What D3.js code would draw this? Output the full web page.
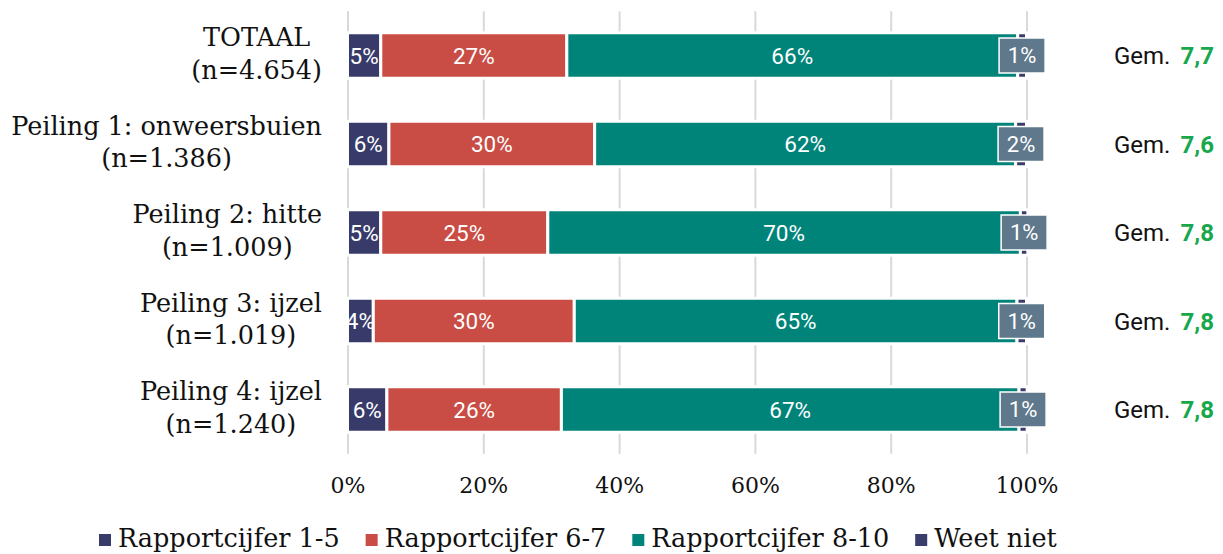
<!DOCTYPE html>
<html>
<head>
<meta charset="utf-8">
<script src="https://cdn.jsdelivr.net/npm/d3@7"></script>
<style>
  html, body { margin: 0; padding: 0; background: #fff; }
  svg { display: block; }
</style>
</head>
<body>
<svg id="chart" width="1223" height="554"></svg>
<script>
// ---- data ----
const categoryNames = ["TOTAAL", "Peiling 1: onweersbuien", "Peiling 2: hitte", "Peiling 3: ijzel", "Peiling 4: ijzel"];
const categorySizes = ["(n=4.654)", "(n=1.386)", "(n=1.009)", "(n=1.019)", "(n=1.240)"];
const seriesNames = ["Rapportcijfer 1-5", "Rapportcijfer 6-7", "Rapportcijfer 8-10", "Weet niet"];
const cijfer1to5 = [4.9, 6.1, 4.9, 3.8, 5.8];
const cijfer6to7 = [27.4, 30.3, 24.6, 29.6, 25.7];
const cijfer8to10 = [66.4, 62.0, 69.6, 65.2, 67.4];
const weetNiet = [1.3, 1.6, 1.1, 1.4, 1.2];
const gemiddelde = ["7,7", "7,6", "7,8", "7,8", "7,8"];
const tickValues = [0, 20, 40, 60, 80, 100];

const colors = ["#383b69", "#c94d44", "#00847a", "#3a3c6c"];
const weetBoxColor = "#5f788b";

const svg = d3.select("#chart");
const x = d3.scaleLinear().domain([0, 100]).range([347.5, 1026.5]);
const y = d3.scaleBand().domain(d3.range(categoryNames.length))
  .range([11.25, 453.75]).paddingInner(0.486).paddingOuter(0.243);

// grid / axis
const axis = d3.axisBottom(x).tickValues(tickValues).tickFormat(d => d + "%")
  .tickSizeInner(-(453.75 - 11.25)).tickSizeOuter(0).tickPadding(24);
const gAxis = svg.append("g").attr("transform", "translate(0,453.75)").call(axis);
gAxis.select(".domain").remove();
gAxis.selectAll(".tick line").attr("stroke", "#d9d9d9").attr("stroke-width", 2);
gAxis.selectAll(".tick text").attr("fill", "#111").style("font-family", "'DejaVu Serif', serif").style("font-size", "22px");

// stacked data
const seriesData = [cijfer1to5, cijfer6to7, cijfer8to10, weetNiet];
const rows = categoryNames.map((n, i) => {
  let acc = 0;
  return seriesData.map((s, k) => {
    const seg = { row: i, k: k, x0: acc, x1: acc + s[i], v: s[i] };
    acc += s[i];
    return seg;
  });
});

svg.append("clipPath").attr("id", "plotclip").append("rect")
  .attr("x", 348).attr("y", 0).attr("width", 800).attr("height", 470);

const gBars = svg.append("g");
rows.forEach(segs => {
  gBars.selectAll(null).data(segs).enter().append("rect")
    .attr("x", d => x(d.x0))
    .attr("width", d => x(d.x1) - x(d.x0))
    .attr("y", d => y(d.row))
    .attr("height", y.bandwidth())
    .attr("fill", d => colors[d.k])
    .attr("stroke", "#fff").attr("stroke-width", 3);
});

const fmt = v => Math.round(v) + "%";
const gLab = svg.append("g").attr("clip-path", "url(#plotclip)");
rows.forEach(segs => {
  gLab.selectAll(null).data(segs.filter(d => d.k < 3)).enter().append("text")
    .attr("x", d => (x(d.x0) + x(d.x1)) / 2)
    .attr("y", d => y(d.row) + y.bandwidth() / 2)
    .attr("dy", "0.36em")
    .attr("text-anchor", "middle")
    .attr("fill", "#fff")
    .style("font-family", "Roboto, sans-serif").style("font-size", "22.5px")
    .text(d => fmt(d.v));
  // weet niet box label
  const w = segs[3];
  const cx = (x(w.x0) + x(w.x1)) / 2, cy = y(w.row) + y.bandwidth() / 2;
  svg.append("rect").attr("x", cx - 23).attr("y", cy - 17.5).attr("width", 46).attr("height", 35)
    .attr("fill", weetBoxColor).attr("stroke", "#fff").attr("stroke-width", 1.5);
  svg.append("text").attr("x", cx).attr("y", cy).attr("dy", "0.36em")
    .attr("text-anchor", "middle").attr("fill", "#fff")
    .style("font-family", "Roboto, sans-serif").style("font-size", "22px")
    .text(fmt(w.v));
});

// category labels (two centred lines, block right-aligned)
categoryNames.forEach((name, i) => {
  const cy = y(i) + y.bandwidth() / 2;
  const t = svg.append("text").attr("text-anchor", "middle").attr("fill", "#111")
    .style("font-family", "'DejaVu Serif', serif").style("font-size", "25.5px");
  const a = t.append("tspan").attr("y", cy - 9.5).text(name);
  const b = t.append("tspan").attr("y", cy + 23).text(categorySizes[i]);
  const wmax = Math.max(a.node().getComputedTextLength(), b.node().getComputedTextLength());
  const cxl = 322 - wmax / 2;
  a.attr("x", cxl); b.attr("x", cxl);
});

// Gem. labels
gemiddelde.forEach((g, i) => {
  const cy = y(i) + y.bandwidth() / 2;
  const t = svg.append("text").attr("x", 1114).attr("y", cy).attr("dy", "0.36em")
    .style("font-family", "Roboto, sans-serif").style("font-size", "24px").attr("fill", "#111");
  t.append("tspan").text("Gem.");
  t.append("tspan").attr("dx", 10).attr("fill", "#17a74c").attr("font-weight", "bold").text(g);
});

// legend
const lg = svg.append("g");
let lx = 99;
seriesNames.forEach((s, k) => {
  lg.append("rect").attr("x", lx).attr("y", 534).attr("width", 12).attr("height", 12).attr("fill", colors[k]);
  const t = lg.append("text").attr("x", lx + 19).attr("y", 547).attr("fill", "#111")
    .style("font-family", "'DejaVu Serif', serif").style("font-size", "25.5px").text(s);
  lx += 19 + t.node().getComputedTextLength() + 26;
});
</script>
</body>
</html>
